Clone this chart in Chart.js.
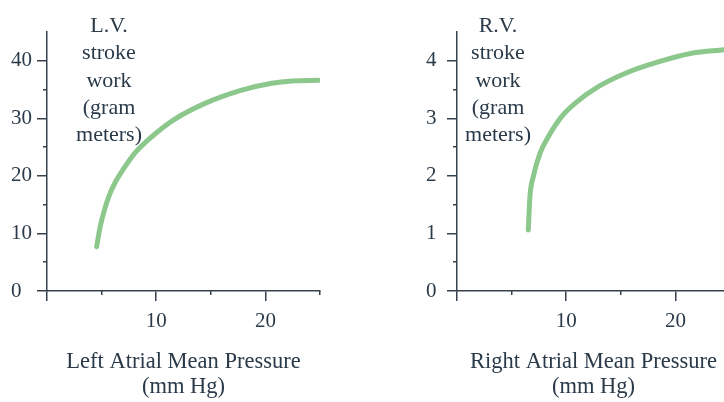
<!DOCTYPE html>
<html><head><meta charset="utf-8">
<script src="https://cdn.jsdelivr.net/npm/chart.js@4.4.1/dist/chart.umd.min.js"></script>
<style>
html,body{margin:0;padding:0;background:#fff;overflow:hidden;width:724px;height:402px;}
#wrap{position:relative;width:724px;height:402px;overflow:hidden;background:#fff;}
#c1{position:absolute;left:0;top:0;width:362px;height:402px;}
#c2{position:absolute;left:380px;top:0;width:362px;height:402px;}
</style></head><body>
<div id="wrap"><canvas id="c1" width="362" height="402"></canvas><canvas id="c2" width="362" height="402"></canvas></div>
<script>
// ---- data ----
const lvPressure = [4.55, 4.85, 5.25, 5.7, 6.25, 7.0, 8.06, 9.59, 11.57, 14.47, 17.83, 20.58, 22.41, 24.85];
const lvWork     = [7.7, 11.0, 14.0, 16.6, 18.9, 21.2, 24.0, 26.8, 29.7, 32.6, 34.9, 36.1, 36.5, 36.6];
const rvPressure = [6.53, 6.68, 6.99, 7.6, 8.36, 9.58, 10.81, 12.94, 15.38, 18.43, 21.49, 24.45];
const rvWork     = [1.06, 1.64, 1.99, 2.39, 2.68, 3.03, 3.26, 3.55, 3.78, 3.98, 4.13, 4.19];

const xMajorTicks = [0, 10, 20];
const xMinorTicks = [5, 15, 25];
const xTickLabels = ['10', '20'];
const lvYMajor = [0, 10, 20, 30, 40];
const lvYMinor = [5, 15, 25, 35];
const rvYMajor = [0, 1, 2, 3, 4];
const rvYMinor = [0.5, 1.5, 2.5, 3.5];

const lvTitle = ['L.V.', 'stroke', 'work', '(gram', 'meters)'];
const rvTitle = ['R.V.', 'stroke', 'work', '(gram', 'meters)'];
const lvXTitle = ['Left Atrial Mean Pressure', '(mm Hg)'];
const rvXTitle = ['Right Atrial Mean Pressure', '(mm Hg)'];

// ---- style ----
const axisColor = '#35414d';
const textColor = '#2a3a49';
const curveColor = '#8cc78c';
const serif = "'Liberation Serif','Times New Roman',serif";

const sideTitle = {
  id: 'sideTitle',
  afterDraw(chart, args, o) {
    const ctx = chart.ctx;
    ctx.save();
    ctx.font = o.size + 'px ' + serif;
    ctx.fillStyle = textColor;
    ctx.textAlign = 'center';
    ctx.textBaseline = 'alphabetic';
    o.lines.forEach((t, i) => ctx.fillText(t, chart.chartArea.left + o.dx, o.y0 + i * o.step));
    ctx.restore();
  }
};

function makeChart(id, xs, ys, yMax, yMajor, yMinor, xTitle, titleLines, padLeft, padRight, yWidth, dx) {
  const fixTicks = arr => s => { s.ticks = arr.map(v => ({ value: v })); };
  return new Chart(document.getElementById(id), {
    type: 'line',
    data: { datasets: [{
      data: xs.map((x, i) => ({ x: x, y: ys[i] })),
      borderColor: curveColor, borderWidth: 5, pointRadius: 0,
      cubicInterpolationMode: 'monotone', tension: 0.4,
      borderCapStyle: 'round', borderJoinStyle: 'round', fill: false
    }]},
    plugins: [sideTitle],
    options: {
      responsive: false, animation: false, events: [],
      layout: { padding: { left: padLeft, right: padRight, top: 32, bottom: 0 } },
      plugins: {
        legend: { display: false }, tooltip: { enabled: false },
        sideTitle: { lines: titleLines, dx: dx, y0: 32, step: 27.3, size: 22 }
      },
      scales: {
        x: {
          type: 'linear', min: 0, max: 25, position: 'bottom', weight: 1,
          afterBuildTicks: fixTicks(xMajorTicks),
          afterFit: s => { s.height = 111; s.paddingLeft = 0; s.paddingRight = 0; },
          grid: { drawOnChartArea: false, drawTicks: true, tickLength: 10, color: axisColor, lineWidth: 1.5 },
          border: { display: true, color: axisColor, width: 1.5 },
          ticks: { padding: 8, color: textColor, autoSkip: false, maxRotation: 0,
                   font: { family: serif, size: 21 },
                   callback: v => xTickLabels.includes(String(v)) ? String(v) : '' },
          title: { display: true, text: xTitle, color: textColor,
                   font: { family: serif, size: 22.5, lineHeight: 1.12 }, padding: { top: 0, bottom: 2 } }
        },
        xMinor: {
          type: 'linear', min: 0, max: 25, position: 'bottom', weight: 0,
          afterBuildTicks: fixTicks(xMinorTicks),
          afterFit: s => { s.height = 0; s.paddingLeft = 0; s.paddingRight = 0; },
          grid: { drawOnChartArea: false, drawTicks: true, tickLength: 4, color: axisColor, lineWidth: 1.5 },
          border: { display: false },
          ticks: { display: false }
        },
        y: {
          type: 'linear', min: 0, max: yMax, position: 'left', weight: 1,
          afterBuildTicks: fixTicks(yMajor),
          afterFit: s => { s.width = yWidth; s.paddingTop = 0; s.paddingBottom = 0; },
          grid: { drawOnChartArea: false, drawTicks: true, tickLength: 10, color: axisColor, lineWidth: 1.5 },
          border: { display: true, color: axisColor, width: 1.5 },
          ticks: { padding: 3, color: textColor, crossAlign: 'far', autoSkip: false,
                   font: { family: serif, size: 21 } }
        },
        yMinor: {
          type: 'linear', min: 0, max: yMax, position: 'left', weight: 0,
          afterBuildTicks: fixTicks(yMinor),
          afterFit: s => { s.width = 0; s.paddingTop = 0; s.paddingBottom = 0; },
          grid: { drawOnChartArea: false, drawTicks: true, tickLength: 4, color: axisColor, lineWidth: 1.5 },
          border: { display: false },
          ticks: { display: false }
        }
      }
    }
  });
}

makeChart('c1', lvPressure, lvWork, 45, lvYMajor, lvYMinor, lvXTitle, lvTitle, 11, 42, 36, 62);
makeChart('c2', rvPressure, rvWork, 4.5, rvYMajor, rvYMinor, rvXTitle, rvTitle, 46, 12, 31, 41);
</script>
</body></html>
